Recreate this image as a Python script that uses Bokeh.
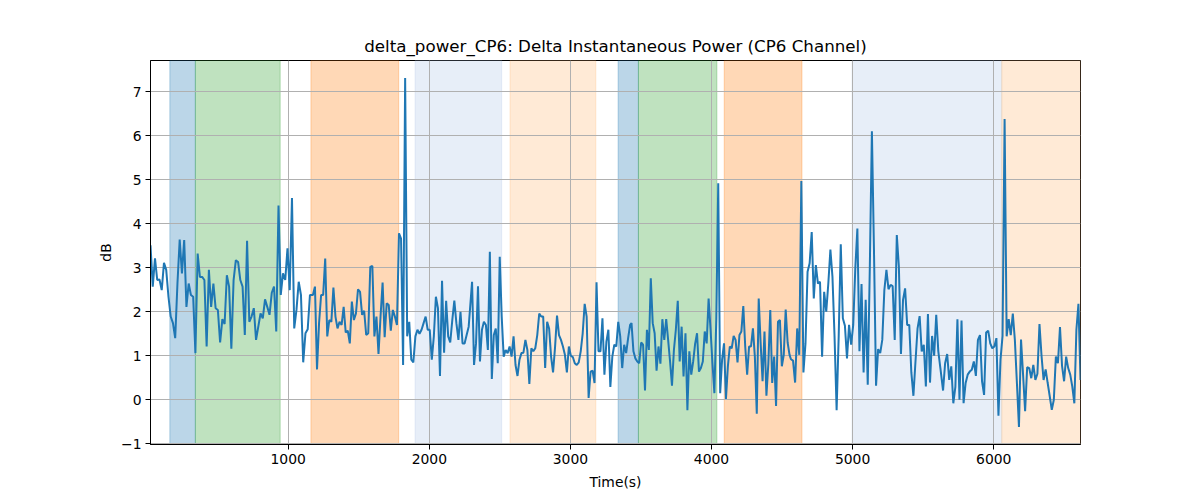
import numpy as np
from bokeh.plotting import figure
from bokeh.models import Range1d, FixedTicker, BoxAnnotation
from bokeh.embed import file_html
from bokeh.resources import INLINE

# delta power samples in six consecutive stretches
seg1_t = (24, 1154)
seg1 = [3.51, 2.57, 3.21, 2.72, 2.73, 2.49, 3.11, 2.95, 2.34, 1.89, 1.74, 1.40, 2.64, 3.64, 2.87,
        3.63, 2.11, 2.64, 2.38, 2.34, 1.06, 3.32, 2.79, 2.79, 2.72, 1.21, 2.95, 2.11, 2.64, 2.08,
        2.04, 1.30, 1.83, 1.72, 2.83, 2.57, 1.16, 2.72, 3.17, 3.13, 2.72, 2.57, 1.47, 3.61, 1.77,
        1.89, 2.08, 1.36, 1.66, 1.96, 1.85, 2.28, 2.11, 1.93, 2.43, 2.57, 1.55, 4.41, 2.38, 2.87,
        2.72, 3.44, 2.49, 4.58, 1.62, 2.04, 2.68, 2.38, 0.85, 1.51, 1.60, 2.38]
seg2_t = (1175, 2279)
seg2 = [2.38, 2.57, 0.69, 1.74, 2.38, 2.38, 3.21, 1.44, 1.81, 1.77, 2.55, 1.89, 1.62, 1.77, 1.70,
        2.11, 1.53, 1.57, 1.28, 2.23, 1.81, 1.96, 2.51, 2.45, 1.93, 2.02, 1.47, 1.51, 3.02, 3.04,
        1.44, 1.89, 1.04, 1.89, 2.66, 1.42, 2.19, 2.15, 1.57, 2.04, 1.89, 1.70, 3.78, 3.66, 0.79,
        7.31, 1.44, 1.77, 0.91, 0.85, 1.44, 1.59, 1.50, 1.59, 1.74, 1.89, 1.59, 1.59, 0.91, 1.44,
        2.34, 2.08, 0.54, 2.70, 1.07, 2.25, 1.44, 1.30, 1.81, 2.25, 1.74, 1.36, 2.00, 1.28, 1.28,
        1.47, 1.66]
seg3_t = (2303, 3423)
seg3 = [2.68, 0.79, 1.28, 2.58, 0.87, 1.59, 1.77, 1.70, 1.13, 3.36, 0.47, 1.47, 1.62, 0.83, 3.25,
        1.89, 0.98, 1.13, 1.06, 1.21, 0.98, 1.44, 0.79, 0.54, 0.91, 1.06, 1.07, 1.36, 1.13, 0.36,
        1.17, 1.10, 1.17, 1.47, 1.96, 1.89, 1.89, 0.72, 1.77, 1.62, 0.98, 0.62, 1.19, 1.91, 1.47,
        1.36, 1.21, 1.02, 0.62, 1.21, 1.00, 0.97, 0.83, 0.79, 0.85, 1.10, 1.51, 2.18, 1.89, 0.04,
        0.64, 0.66, 0.38, 2.67, 1.10, 1.10, 1.85, 0.57, 1.32, 1.59, 0.29, 0.98, 1.25, 1.21, 1.77,
        1.44, 0.72, 1.25, 1.06, 1.40, 1.70]
seg4_t = (3433, 4553)
seg4 = [1.74, 1.10, 0.94, 0.87, 0.83, 1.30, 1.25, 0.21, 1.59, 1.13, 2.76, 1.74, 1.51, 0.66, 1.21,
        0.82, 1.83, 1.36, 1.83, 1.36, 0.87, 0.32, 1.13, 1.59, 2.25, 0.87, 1.66, 0.53, 1.51, -0.24,
        1.10, 0.57, 0.87, 1.27, 1.51, 0.64, 0.72, 0.87, 1.55, 1.28, 2.30, 1.60, 0.83, 0.15, 1.85,
        4.92, 0.15, 0.91, 1.28, 0.02, 0.76, 1.21, 1.17, 1.45, 1.36, 0.85, 1.47, 1.55, 2.13, 1.21,
        0.57, 1.21, 1.21, 1.62, 0.98, -0.32, 2.30, 1.28, 0.42, 1.55, 0.09, 0.82, 2.04, 0.38, 0.98,
        -0.14, 1.77, 1.81, 0.76, 1.02, 2.05, 1.30, 1.02]
seg5_t = (4563, 5622)
seg5 = [0.92, 0.89, 0.39, 1.62, 1.02, 4.97, 0.62, 1.28, 2.91, 3.10, 3.81, 2.30, 3.06, 2.64, 2.68,
        0.98, 2.45, 2.00, 2.64, 3.41, 2.79, 1.44, -0.24, 1.44, 3.53, 1.85, 1.68, 0.94, 1.70, 1.25,
        1.70, 2.98, 3.89, 1.10, 2.63, 0.62, 2.27, 0.34, 3.02, 6.10, 3.40, 0.32, 1.15, 1.06, 1.36,
        2.49, 2.95, 2.51, 2.61, 2.58, 1.36, 3.74, 3.02, 1.04, 2.27, 2.53, 1.70, 1.70, 0.62, 0.09,
        0.87, 1.62, 1.90, 1.10, 1.25, 0.30, 1.95, 0.39, 1.45, 1.00, 1.93, 1.10, 0.72]
seg6_t = (5641, 6615)
seg6 = [0.21, 0.83, 1.04, 0.45, 0.76, -0.08, 0.29, 1.83, 0.00, 1.80, -0.08, 0.38, 0.57, 0.64, 0.68,
        0.87, 0.54, 1.36, 1.47, 0.42, 0.11, 1.53, 1.57, 1.28, 1.17, 1.21, 1.40, -0.36, 0.91, 1.45,
        6.38, 1.44, 1.83, 1.47, 1.96, 1.36, 0.38, -0.62, 1.37, 0.57, -0.26, 0.74, 0.72, 0.49, 0.79,
        0.45, 0.59, 1.72, 1.00, 0.45, 0.69, 0.38, 0.08, -0.23, 0.00, 0.98, 0.83, 1.65, 0.77, 0.42,
        0.98, 0.72, 0.57, 0.30, -0.08, 1.59, 2.18, 0.45]

# shaded event windows
span_start = [161, 342, 1161, 1899, 2572, 3338, 3482, 4090, 4996, 6057]
span_end = [342, 943, 1783, 2513, 3180, 3482, 4038, 4641, 6057, 6615]
span_color = ["#1f77b4", "#2ca02c", "#ff7f0e", "#aec7e8", "#ffbb78",
              "#1f77b4", "#2ca02c", "#ff7f0e", "#aec7e8", "#ffbb78"]

segments = [(seg1_t, seg1), (seg2_t, seg2), (seg3_t, seg3),
            (seg4_t, seg4), (seg5_t, seg5), (seg6_t, seg6)]
t = np.concatenate([np.linspace(a, b, len(v)) for (a, b), v in segments])
y = np.concatenate([v for _, v in segments])

pad = 0.05 * (y.max() - y.min())

p = figure(
    width=1200, height=500,
    title="delta_power_CP6: Delta Instantaneous Power (CP6 Channel)",
    x_range=Range1d(t[0], t[-1]),
    y_range=Range1d(y.min() - pad, y.max() + pad),
    output_backend="svg", toolbar_location=None,
    min_border_left=150, min_border_right=120, min_border_top=60, min_border_bottom=56,
)

for s, e, c in zip(span_start, span_end, span_color):
    p.add_layout(BoxAnnotation(left=s, right=e, fill_color=c, fill_alpha=0.3,
                               line_color=c, line_alpha=0.3, line_width=1, level="image"))

p.line(t, y, line_color="#1f77b4", line_width=2)

font = "DejaVu Sans"
p.title.align = "center"
p.title.text_font = font
p.title.text_font_size = "16.7px"
p.title.text_font_style = "normal"
p.title.text_color = "black"

p.xaxis.ticker = FixedTicker(ticks=[1000, 2000, 3000, 4000, 5000, 6000])
p.yaxis.ticker = FixedTicker(ticks=[-1, 0, 1, 2, 3, 4, 5, 6, 7])
p.yaxis.major_label_overrides = {-1: "\u22121"}
p.xaxis.axis_label = "Time(s)"
p.yaxis.axis_label = "dB"
for ax in (p.xaxis[0], p.yaxis[0]):
    ax.axis_label_text_font = font
    ax.axis_label_text_font_size = "13.9px"
    ax.axis_label_text_font_style = "normal"
    ax.axis_label_text_color = "black"
    ax.major_label_text_font = font
    ax.major_label_text_font_size = "13.9px"
    ax.major_label_text_color = "black"
    ax.major_tick_in = 0
    ax.major_tick_out = 5
    ax.minor_tick_out = 0
    ax.minor_tick_in = 0
    ax.axis_line_color = "black"
    ax.major_tick_line_color = "black"
    ax.major_label_standoff = 4
p.xaxis.axis_label_standoff = 7
p.yaxis.axis_label_standoff = 4

p.grid.grid_line_color = "#b0b0b0"
p.grid.grid_line_width = 1
p.outline_line_color = "black"
p.outline_line_alpha = 1
p.background_fill_color = "white"
p.border_fill_color = "white"

open("out.html", "w").write(file_html(p, INLINE))
